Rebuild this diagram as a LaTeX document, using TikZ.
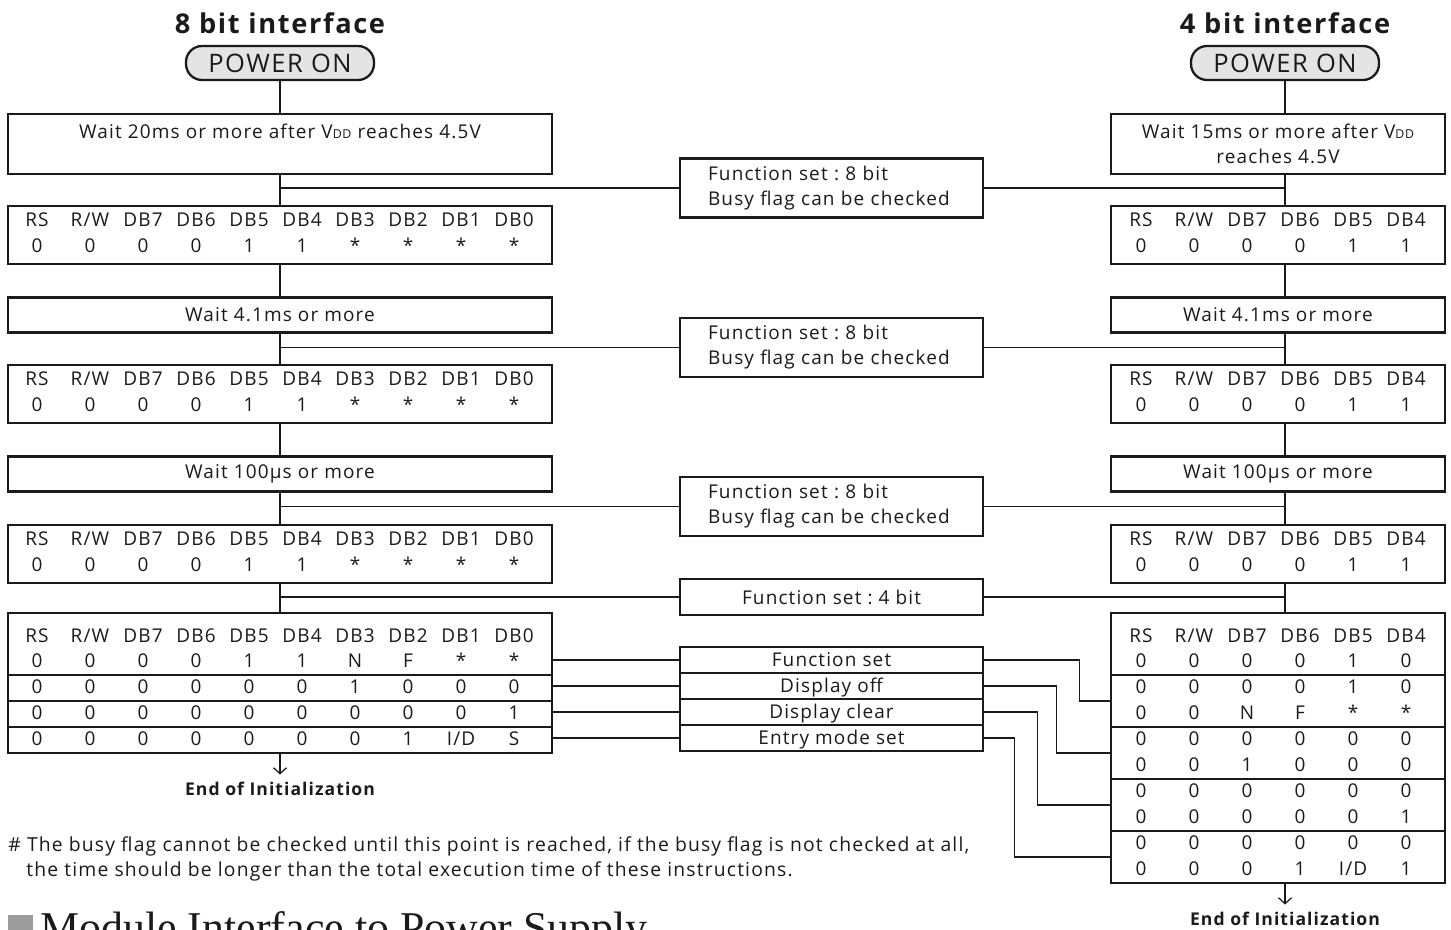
\documentclass[tikz,border=0pt]{standalone}
\usepackage{fontspec}
\setmainfont{Open Sans}[LetterSpace=6]
\newfontfamily\headfont{Liberation Serif}
\usetikzlibrary{arrows.meta}
\definecolor{ink}{HTML}{1A1A1A}
\definecolor{pillgray}{HTML}{E4E4E4}
\definecolor{markgray}{HTML}{9C9C9C}
\newcommand{\mainsize}{\fontsize{10.8}{14.2}\selectfont}
\newcommand{\vdd}{V{\fontsize{7}{8}\selectfont DD}}
\newcommand{\bitrow}[4]{%
  \foreach \v [count=\i] in {#4}
    \node[cell] (#1-\i) at ({#2+53*(\i-1)},#3) {\v};}
\frenchspacing

\begin{document}
\begin{tikzpicture}[x=0.02cm,y=-0.02cm,text=ink,
  every node/.style={inner sep=0pt},
  box/.style={draw=ink,line width=1.3pt,font=\mainsize},
  wide/.style={box,minimum width=10.88cm},
  narrow/.style={box,minimum width=6.68cm},
  mid/.style={box,minimum width=6.06cm},
  pill/.style={box,fill=pillgray,rounded corners=.32cm,minimum width=3.76cm,
    minimum height=.68cm,font=\fontsize{14.5}{16}\selectfont},
  cell/.style={anchor=base,font=\mainsize},
  link/.style={draw=ink,line width=.7pt},
  rule/.style={draw=ink,line width=1.3pt},
  head/.style={anchor=base,font=\fontsize{15.5}{18}\bfseries\selectfont},
  tail/.style={anchor=base,outer sep=4pt,font=\fontsize{10}{12}\bfseries\selectfont},
  note/.style={anchor=base west,font=\fontsize{11}{13}\selectfont},
  finish/.style={link,-{Straight Barb[length=.12cm,width=.26cm]}}
]
  \useasboundingbox (0,0) rectangle (1451,930);
  \clip (0,0) rectangle (1451,930);

  \node[head] (titleL) at (280,33) {8 bit interface};
  \node[head] (titleR) at (1285,33) {4 bit interface};
  \node[pill] (pillL) at (280,63) {POWER ON};
  \node[pill] (pillR) at (1285,63) {POWER ON};

  \node[wide,minimum height=1.2cm,align=center] (waitL1) at (280,144)
    {Wait 20ms or more after \vdd{} reaches 4.5V\\\mbox{}};
  \node[narrow,minimum height=1.2cm,align=center] (waitR1) at (1278,144)
    {Wait 15ms or more after \vdd\\reaches 4.5V};
  \foreach \n/\y/\t in {2/315/Wait 4.1ms or more,3/474/Wait 100\textmu s or more}{
    \node[wide,minimum height=.7cm] (waitL\n) at (280,\y) {\t};
    \node[narrow,minimum height=.7cm] (waitR\n) at (1278,\y) {\t};
  }

  \foreach \n/\y in {1/235,2/394,3/554}{
    \node[wide,minimum height=1.16cm] (tabL\n) at (280,\y) {};
    \node[narrow,minimum height=1.16cm] (tabR\n) at (1278,\y) {};
    \bitrow{lh\n}{37}{\y-9}{RS,R/W,DB7,DB6,DB5,DB4,DB3,DB2,DB1,DB0}
    \bitrow{lv\n}{37}{\y+17}{0,0,0,0,1,1,*,*,*,*}
    \bitrow{rh\n}{1141}{\y-9}{RS,R/W,DB7,DB6,DB5,DB4}
    \bitrow{rv\n}{1141}{\y+17}{0,0,0,0,1,1}
  }

  \foreach \n/\y in {1/188,2/347.5,3/506.5}
    \node[mid,minimum height=1.18cm,align=left,text width=4.94cm] (fs\n) at (831.5,\y)
      {Function set : 8 bit\\Busy flag can be checked};
  \node[mid,minimum height=.72cm] (fs4) at (831.5,597) {Function set : 4 bit};

  \node[wide,minimum height=2.8cm] (tabL4) at (280,683) {};
  \bitrow{l4h}{37}{642}{RS,R/W,DB7,DB6,DB5,DB4,DB3,DB2,DB1,DB0}
  \bitrow{l4a}{37}{667}{0,0,0,0,1,1,N,F,*,*}
  \bitrow{l4b}{37}{693}{0,0,0,0,0,0,1,0,0,0}
  \bitrow{l4c}{37}{719}{0,0,0,0,0,0,0,0,0,1}
  \bitrow{l4d}{37}{745}{0,0,0,0,0,0,0,1,I/D,S}
  \foreach \y in {675,701,727}
    \draw[rule] (tabL4.west |- 0,\y) -- (tabL4.east |- 0,\y);

  \node[narrow,minimum height=5.4cm] (tabR4) at (1278,748) {};
  \bitrow{r4h}{1141}{642}{RS,R/W,DB7,DB6,DB5,DB4}
  \bitrow{r4a}{1141}{667}{0,0,0,0,1,0}
  \bitrow{r4b}{1141}{693}{0,0,0,0,1,0}
  \bitrow{r4c}{1141}{719}{0,0,N,F,*,*}
  \bitrow{r4d}{1141}{745}{0,0,0,0,0,0}
  \bitrow{r4e}{1141}{771}{0,0,1,0,0,0}
  \bitrow{r4f}{1141}{797}{0,0,0,0,0,0}
  \bitrow{r4g}{1141}{823}{0,0,0,0,0,1}
  \bitrow{r4h}{1141}{849}{0,0,0,0,0,0}
  \bitrow{r4i}{1141}{875}{0,0,0,1,I/D,1}
  \foreach \y in {675,727,779,831}
    \draw[rule] (tabR4.west |- 0,\y) -- (tabR4.east |- 0,\y);

  \foreach \n/\y/\t in {A/660/Function set,B/686/Display off,
      C/712/Display clear,D/738/Entry mode set}
    \node[mid,minimum height=.52cm,text height=7.7pt,text depth=0pt] (fs\n)
      at (831.5,\y) {\t};

  \coordinate (grpA) at (1111,701);
  \coordinate (grpB) at (1111,753);
  \coordinate (grpC) at (1111,805);
  \coordinate (grpD) at (1111,857);

  \foreach \a/\b in {pillL/waitL1,waitL1/tabL1,tabL1/waitL2,waitL2/tabL2,
      tabL2/waitL3,waitL3/tabL3,tabL3/tabL4}
    \draw[link] (\a) -- (\b);
  \foreach \a/\b in {pillR/waitR1,waitR1/tabR1,tabR1/waitR2,waitR2/tabR2,
      tabR2/waitR3,waitR3/tabR3,tabR3/tabR4}
    \draw[link] (pillR.south |- \a.south) -- (pillR.south |- \b.north);
  \foreach \f in {fs1,fs2,fs3,fs4}
    \draw[link] (\f.west -| pillL.south) -- (\f.west)
      (\f.east) -- (\f.east -| pillR.south);
  \foreach \f in {fsA,fsB,fsC,fsD}
    \draw[link] (\f.west) -- (\f.west -| tabL4.east);
  \draw[link] (fsA.east) -- ++(95,0) |- (grpA);
  \draw[link] (fsB.east) -- ++(72,0) |- (grpB);
  \draw[link] (fsC.east) -- ++(53,0) |- (grpC);
  \draw[link] (fsD.east) -- ++(30,0) |- (grpD);

  \node[tail] (endL) at (280,795) {End of Initialization};
  \node[tail] (endR) at (1285,925) {End of Initialization};
  \draw[finish] (tabL4) -- (endL);
  \draw[finish] (endR |- tabR4.south) -- (endR);

  \node[note] (note1) at (8,851)
    {\# The busy flag cannot be checked until this point is reached, if the busy flag is not checked at all,};
  \node[note] (note2) at (26,876)
    {the time should be longer than the total execution time of these instructions.};

  \node[fill=markgray,minimum size=.5cm,anchor=north west] (headsq) at (8,915) {};
  \node[anchor=base west,font=\headfont\fontsize{25}{28}\selectfont] (modhead) at (40,942)
    {Module Interface to Power Supply};
\end{tikzpicture}
\end{document}
